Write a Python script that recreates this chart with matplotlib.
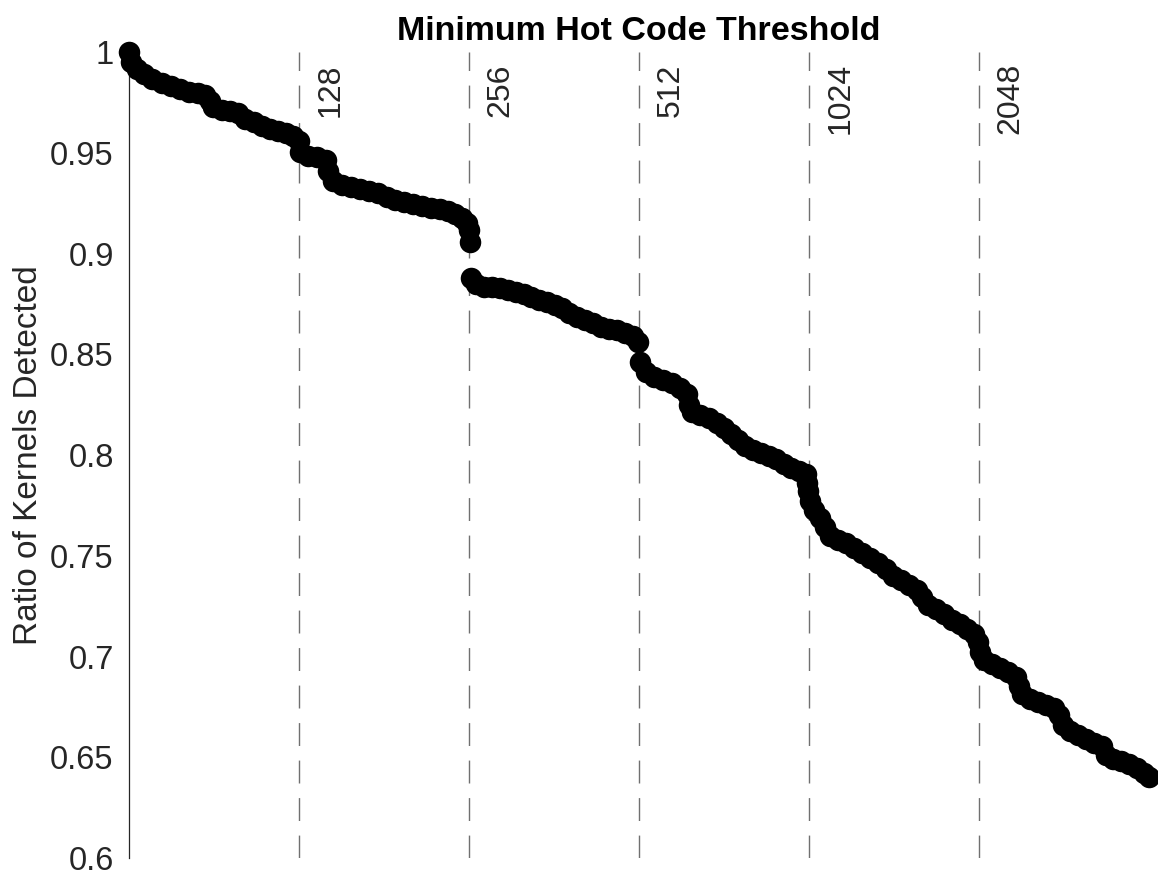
import matplotlib
matplotlib.use("Agg")
import matplotlib.pyplot as plt
from matplotlib.ticker import FuncFormatter

plt.rcParams['font.family'] = ['Liberation Sans', 'DejaVu Sans']

# x position of each point, as log2 of the hot code threshold
log2_threshold = [
    6.000, 6.012, 6.047, 6.088, 6.135, 6.194, 6.247, 6.300, 6.353, 6.406,
    6.447, 6.476, 6.494, 6.547, 6.594, 6.641, 6.682, 6.735, 6.782, 6.829,
    6.876, 6.924, 6.965, 7.000, 7.006, 7.053, 7.106, 7.159, 7.171, 7.200,
    7.253, 7.306, 7.359, 7.412, 7.465, 7.518, 7.565, 7.618, 7.671, 7.724,
    7.776, 7.829, 7.876, 7.918, 7.959, 7.988, 8.000, 8.006, 8.012, 8.041,
    8.088, 8.135, 8.182, 8.229, 8.276, 8.324, 8.365, 8.412, 8.459, 8.506,
    8.547, 8.588, 8.635, 8.682, 8.729, 8.776, 8.824, 8.871, 8.918, 8.965,
    8.994, 9.006, 9.041, 9.088, 9.141, 9.194, 9.241, 9.282, 9.294, 9.312,
    9.359, 9.412, 9.459, 9.500, 9.541, 9.582, 9.624, 9.671, 9.718, 9.765,
    9.806, 9.853, 9.894, 9.941, 9.982, 9.988, 9.994, 10.006, 10.029, 10.065,
    10.094, 10.124, 10.171, 10.218, 10.265, 10.312, 10.359, 10.406, 10.453, 10.494,
    10.541, 10.588, 10.635, 10.665, 10.700, 10.747, 10.794, 10.841, 10.888, 10.929,
    10.971, 10.994, 11.006, 11.029, 11.076, 11.124, 11.171, 11.218, 11.235, 11.253,
    11.300, 11.347, 11.394, 11.441, 11.471, 11.494, 11.535, 11.582, 11.629, 11.676,
    11.724, 11.747, 11.788, 11.835, 11.882, 11.929, 11.971, 12.000,
]

# ratio of kernels detected at each point
ratio_detected = [
    1.0000, 0.9950, 0.9916, 0.9891, 0.9866, 0.9846, 0.9831, 0.9816, 0.9801, 0.9797,
    0.9787, 0.9757, 0.9727, 0.9712, 0.9707, 0.9697, 0.9667, 0.9653, 0.9633, 0.9618,
    0.9608, 0.9598, 0.9583, 0.9558, 0.9504, 0.9484, 0.9479, 0.9464, 0.9409, 0.9360,
    0.9340, 0.9330, 0.9320, 0.9310, 0.9300, 0.9280, 0.9266, 0.9256, 0.9246, 0.9236,
    0.9226, 0.9221, 0.9211, 0.9196, 0.9176, 0.9151, 0.9117, 0.9057, 0.8878, 0.8849,
    0.8834, 0.8834, 0.8829, 0.8819, 0.8809, 0.8799, 0.8784, 0.8769, 0.8759, 0.8744,
    0.8730, 0.8705, 0.8685, 0.8670, 0.8655, 0.8635, 0.8625, 0.8620, 0.8605, 0.8591,
    0.8561, 0.8462, 0.8412, 0.8387, 0.8372, 0.8357, 0.8333, 0.8303, 0.8248, 0.8213,
    0.8199, 0.8184, 0.8159, 0.8134, 0.8104, 0.8074, 0.8045, 0.8025, 0.8010, 0.7995,
    0.7980, 0.7955, 0.7935, 0.7921, 0.7906, 0.7861, 0.7821, 0.7772, 0.7727, 0.7687,
    0.7643, 0.7598, 0.7578, 0.7563, 0.7538, 0.7514, 0.7489, 0.7464, 0.7434, 0.7400,
    0.7380, 0.7355, 0.7330, 0.7295, 0.7256, 0.7236, 0.7211, 0.7181, 0.7161, 0.7136,
    0.7112, 0.7072, 0.7022, 0.6983, 0.6963, 0.6943, 0.6923, 0.6898, 0.6854, 0.6814,
    0.6789, 0.6774, 0.6759, 0.6744, 0.6710, 0.6660, 0.6630, 0.6610, 0.6591, 0.6571,
    0.6556, 0.6511, 0.6491, 0.6481, 0.6467, 0.6447, 0.6422, 0.6402,
]

# thresholds marked by the dashed lines
marked_thresholds = [128, 256, 512, 1024, 2048]
y_ticks = [0.6, 0.65, 0.7, 0.75, 0.8, 0.85, 0.9, 0.95, 1.0]


def main():
    fig = plt.figure(figsize=(11.58, 8.76), dpi=100)
    ax = fig.add_axes([0.1114, 0.0205, 0.8808, 0.9201])

    text_col = '#262626'

    # threshold lines and labels
    for t in marked_thresholds:
        x = t.bit_length() - 1
        ax.axvline(x, color='#707070', lw=1.0, dashes=(16.5, 10.5), zorder=1)
        ax.annotate(str(t), xy=(x, 1.0), xytext=(12, -8), textcoords='offset points',
                    rotation=90, ha='left', va='top', fontsize=23, color=text_col)

    # the points
    ax.plot(log2_threshold, ratio_detected, 'o', color='black', markersize=15.5,
            markeredgewidth=0, clip_on=False, zorder=3)

    ax.set_xlim(6, 12)
    ax.set_ylim(0.6, 1.0)
    ax.set_yticks(y_ticks)
    ax.yaxis.set_major_formatter(FuncFormatter(lambda v, p: '%g' % v))
    ax.tick_params(axis='y', length=0, pad=11, labelsize=23.5, labelcolor=text_col)
    ax.set_xticks([])

    for side in ['top', 'right', 'bottom']:
        ax.spines[side].set_visible(False)
    ax.spines['left'].set_color(text_col)
    ax.spines['left'].set_linewidth(0.9)

    ax.set_ylabel('Ratio of Kernels Detected', fontsize=24, color=text_col)
    ax.yaxis.set_label_coords(-0.083, 0.5)
    ax.set_title('Minimum Hot Code Threshold', fontsize=24.5, fontweight='bold', pad=8.5)

    fig.savefig('out.png', dpi=100)


if __name__ == "__main__":
    main()
